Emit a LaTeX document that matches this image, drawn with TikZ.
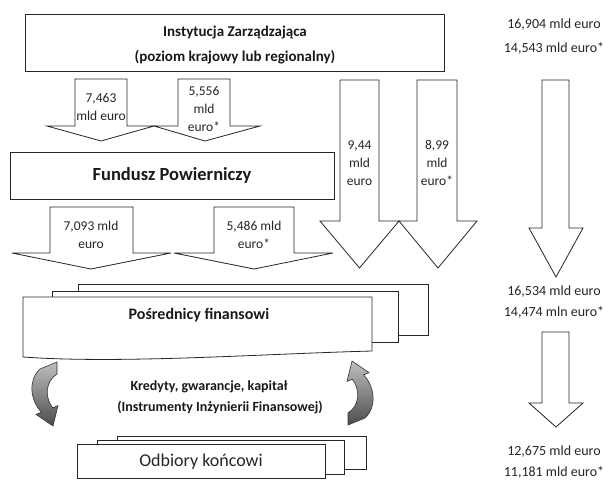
\documentclass[tikz,border=0pt]{standalone}
\usepackage{fontspec}
\setmainfont{Carlito}
\begin{document}
\begin{tikzpicture}[x=1pt,y=-1pt,
  shp/.style={draw=black!85, line width=0.8pt, fill=white, line join=miter},
  curv/.style={draw=black!80, line width=0.6pt, top color=black!25, middle color=black!45, bottom color=black!70},
  lbl/.style={font=\fontsize{13.5}{18}\selectfont, align=center, inner sep=0pt, text=black!85},
  side/.style={font=\fontsize{14}{17}\selectfont, inner sep=0pt, text=black!85},
  head/.style={font=\bfseries\fontsize{15}{18}\selectfont, inner sep=0pt, text=black!90},
  big/.style={font=\bfseries\fontsize{18.5}{22}\selectfont, inner sep=0pt, text=black!90},
  mid/.style={font=\bfseries\fontsize{14}{17}\selectfont, inner sep=0pt, text=black!90}]
\useasboundingbox (0,0) rectangle (608,480);

% top box
\draw[shp] (25,14) rectangle (444,71);
\node[head] (inst1) at (235,33) {Instytucja Zarządzająca};
\node[head] (inst2) at (235,57) {(poziom krajowy lub regionalny)};

% small arrows from top box
\draw[shp] (75,79) -- (127,79) -- (127,126) -- (154,126) -- (101,141) -- (47,126) -- (75,126) -- cycle;
\draw[shp] (178,79) -- (230,79) -- (230,126) -- (260,126) -- (205,141) -- (154,126) -- (178,126) -- cycle;
\node[lbl] (a1) at (101,107) {7,463\\mld euro};
\node[lbl] (a2) at (204,109) {5,556\\mld\\euro*};

% big arrows
\draw[shp] (340,80) -- (379,80) -- (379,221) -- (399,221) -- (359.5,268) -- (320,221) -- (340,221) -- cycle;
\draw[shp] (417,80) -- (457,80) -- (457,221) -- (477,221) -- (438,268) -- (399,221) -- (417,221) -- cycle;
\node[lbl] (b1) at (359.5,163) {9,44\\mld\\euro};
\node[lbl] (b2) at (437,163) {8,99\\mld\\euro*};

% Fundusz box
\draw[shp] (10,152) rectangle (334,199);
\node[big] (fund) at (172,175) {Fundusz Powierniczy};

% arrows from Fundusz
\draw[shp] (50,207) -- (133,207) -- (133,253) -- (171,253) -- (91,269) -- (12,253) -- (50,253) -- cycle;
\draw[shp] (214,207) -- (294,207) -- (294,253) -- (333,253) -- (254,269) -- (174,253) -- (214,253) -- cycle;
\node[lbl] (c1) at (91,235) {7,093 mld\\euro};
\node[lbl] (c2) at (254,235) {5,486 mld\\euro*};

% right column
\node[side] (r1) at (554,25) {16,904 mld euro};
\node[side] (r2) at (554,48) {14,543 mld euro*};
\draw[shp] (542,80) -- (569,80) -- (569,228) -- (583,228) -- (556,277) -- (529,228) -- (542,228) -- cycle;
\node[side] (r3) at (554,292) {16,534 mld euro};
\node[side] (r4) at (554,312) {14,474 mln euro*};
\draw[shp] (542,332) -- (569,332) -- (569,403) -- (583,403) -- (556,427) -- (529,403) -- (542,403) -- cycle;
\node[side] (r5) at (554,452) {12,675 mld euro};
\node[side] (r6) at (554,472) {11,181 mld euro*};

% Posrednicy stack
\draw[shp] (78,284) rectangle (428,335);
\draw[shp] (52,291) rectangle (398,342);
\draw[shp] (23,297) -- (372,297) -- (372,351) .. controls (260,354) and (120,364) .. (23,357) -- cycle;
\node[head, font=\bfseries\fontsize{16}{19}\selectfont] (pos) at (199,315) {Pośrednicy finansowi};

% middle text
\node[mid] (k1) at (209,387) {Kredyty, gwarancje, kapitał};
\node[mid] (k2) at (220,407) {(Instrumenty Inżynierii Finansowej)};

% curved arrows
\draw[curv] (40,369) -- (57,362) -- (57,374) .. controls (46,381) and (44,396) .. (52.6,407.8) -- (58,405.6) -- (53,426) -- (36,414.4) -- (41.4,412.2) .. controls (30,400) and (28,380) .. (40,369) -- cycle;
\draw[curv] (365,418) -- (348,425) -- (348,413) .. controls (359,406) and (361,391) .. (352.4,379.2) -- (347,381.4) -- (352,361) -- (369,372.6) -- (363.6,374.8) .. controls (375,387) and (377,407) .. (365,418) -- cycle;

% Odbiory stack
\draw[shp] (117,436) rectangle (366,469);
\draw[shp] (97,440) rectangle (344,474);
\draw[shp] (77,444) rectangle (325,478);
\node[font=\fontsize{18}{21}\selectfont, inner sep=0pt, text=black!85] (odb) at (201,462) {Odbiory końcowi};
\end{tikzpicture}
\end{document}
